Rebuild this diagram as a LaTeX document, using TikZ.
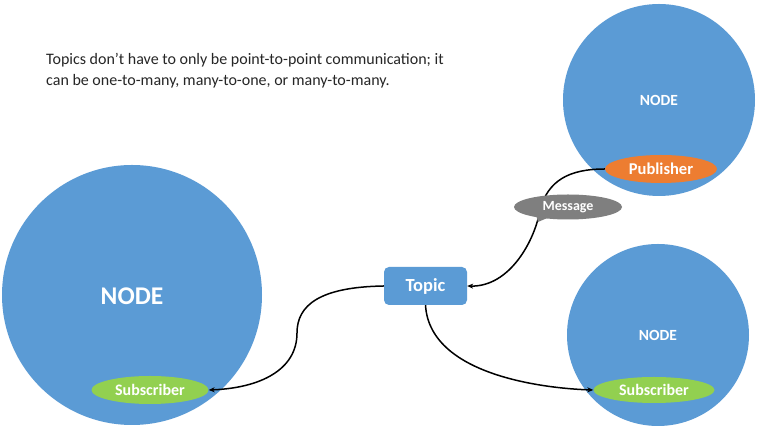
\documentclass[tikz,border=0pt]{standalone}
\usepackage{fontspec}
\setmainfont{Carlito}
\usetikzlibrary{shapes.geometric,arrows.meta}
\definecolor{nodeblue}{HTML}{5B9BD5}
\definecolor{puborange}{HTML}{ED7D31}
\definecolor{subgreen}{HTML}{92D050}
\definecolor{msggray}{HTML}{7F7F7F}
\definecolor{txtdark}{HTML}{262626}
\tikzset{
  rosnode/.style={circle,fill=nodeblue,draw=none,inner sep=0pt,text=white,font=\bfseries},
  pubell/.style={ellipse,fill=puborange,draw=none,inner sep=0pt,text=white,font=\fontsize{16.5}{19}\selectfont\bfseries},
  subell/.style={ellipse,fill=subgreen,draw=none,inner sep=0pt,text=white,font=\fontsize{16}{19}\selectfont\bfseries},
  msgell/.style={ellipse,fill=msggray,draw=none,inner sep=0pt,text=white,font=\fontsize{14}{16}\selectfont\bfseries},
  topicbox/.style={rectangle,rounded corners=5pt,fill=nodeblue,draw=none,inner sep=0pt,text=white,font=\fontsize{18.5}{22}\selectfont\bfseries},
  conn/.style={line width=1.5pt,black,-{Stealth[length=6pt,width=5pt]}}
}
\begin{document}
\begin{tikzpicture}[x=1pt,y=1pt]
\useasboundingbox (0,0) rectangle (764,430);
\fill[white] (0,0) rectangle (764,430);
\begin{scope}
\clip (0,0) rectangle (764,430);
% circles
\node[rosnode,minimum size=260pt] (nl) at (132,135) {};
\node[rosnode,minimum size=192pt] (ntr) at (659,330) {};
\node[rosnode,minimum size=182pt] (nbr) at (658,95) {};
\end{scope}
\node[text=white,font=\fontsize{25.5}{30}\selectfont\bfseries] (tl) at (132,134) {NODE};
\node[text=white,font=\fontsize{15.5}{18}\selectfont\bfseries] (ttr) at (659,330) {NODE};
\node[text=white,font=\fontsize{15.5}{18}\selectfont\bfseries] (tbr) at (658,95) {NODE};
% ellipses
\node[pubell,minimum width=112pt,minimum height=28pt] (pub) at (661,261) {Publisher};
\node[subell,minimum width=117pt,minimum height=28pt] (subl) at (150,40) {Subscriber};
\node[subell,minimum width=121pt,minimum height=26pt] (subr) at (654,40) {Subscriber};
\node[topicbox,minimum width=83pt,minimum height=38pt] (topic) at (425.5,144) {Topic};
% connectors
\draw[conn] (pub.west) .. controls +(-35,0) and +(8,30) .. (540,220) .. controls (535,190) and (510,143) .. (topic.east);
\draw[conn] (topic.west) .. controls (320,143) and (297,125) .. (297,97) .. controls (297,60) and (260,42) .. (subl.east);
\draw[conn] (topic.south) .. controls (430,50) and (560,41) .. (subr.west);
% message callout
\node[msgell,minimum width=108pt,minimum height=25pt] (msg) at (568,223) {Message};
\fill[msggray] (msg.center) ++(-32,-8) -- ++(2,-7) -- ++(14,6) -- cycle;
% caption
\node[anchor=north west,inner sep=0pt,align=left,text=txtdark,font=\fontsize{16}{21}\selectfont] (cap) at (46,377) {Topics don’t have to only be point-to-point communication; it\\can be one-to-many, many-to-one, or many-to-many.};
\end{tikzpicture}
\end{document}
